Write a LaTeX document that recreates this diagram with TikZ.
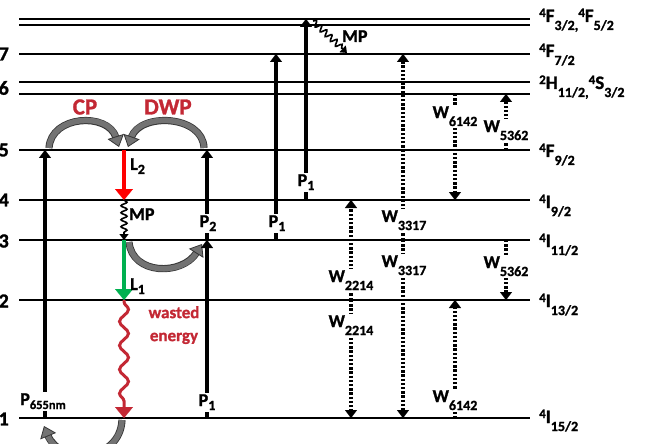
\documentclass[tikz,border=0pt]{standalone}
\usepackage{fontspec}
\setmainfont{Carlito Bold}[FakeBold=1.2]
\usetikzlibrary{arrows.meta,decorations.pathmorphing}
\definecolor{wred}{RGB}{195,40,52}
\definecolor{lgreen}{RGB}{0,176,80}
\definecolor{agray}{RGB}{115,115,115}
\definecolor{adark}{RGB}{55,55,55}
\newcommand{\sps}[1]{\raisebox{5pt}{\fontsize{13}{13}\selectfont #1}}
\newcommand{\sbs}[2][8pt]{\raisebox{-#1}{\fontsize{14}{14}\selectfont #2}}
\newcommand{\sbsm}[2][4pt]{\raisebox{-#1}{\fontsize{12.5}{12.5}\selectfont #2}}
\begin{document}
\begin{tikzpicture}[x=1pt,y=-1pt,
  level/.style={line width=1.6pt},
  lbl/.style={font=\fontsize{18}{18}\selectfont, inner sep=1.5pt, fill=white, anchor=base},
  plain/.style={font=\fontsize{18}{18}\selectfont, inner sep=0pt, anchor=base west},
  lvlname/.style={font=\fontsize{19}{19}\selectfont, inner sep=0pt, anchor=base west},
  num/.style={font=\fontsize{20}{20}\selectfont, inner sep=0pt, anchor=east},
  redtxt/.style={font=\fontsize{23}{23}\selectfont, text=wred, inner sep=0pt},
  pump/.style={line width=3.2pt, -{Triangle[width=12pt,length=8pt,line width=0.1pt]}},
  wdot/.style={line width=3.2pt, dash pattern=on 2.4pt off 1.8pt, -{Triangle[width=12pt,length=8pt,line width=0.1pt]}},
  emit/.style={line width=4pt, -{Triangle[width=18pt,length=11pt,line width=0.1pt]}},
  wavy/.style={line width=1.6pt, decorate, decoration={snake, amplitude=3pt, segment length=7pt, post length=5pt},
    -{Triangle[width=9pt,length=6pt,line width=0.1pt]}},
  waste/.style={line width=3pt, wred, decorate, decoration={snake, amplitude=4.5pt, segment length=24pt, post length=10pt, pre length=2pt},
    -{Triangle[width=18pt,length=11pt,line width=0.1pt]}},
  garrow/.style={line width=5.5pt, draw=agray,
    -{Triangle[width=17pt,length=11pt,fill=agray,color=adark,line width=0.8pt]},
    preaction={draw=adark, line width=7.2pt, -, shorten >=10pt}}
]
\useasboundingbox (0,0) rectangle (657,444);

% energy levels
\foreach \n/\y in {t1/19,t2/25,7/54,6a/82,6b/94,5/150,4/200,3/240,2/300,1/418} {
  \coordinate (L\n w) at (19,\y);
  \coordinate (L\n e) at (530,\y);
  \draw[level] (L\n w) -- (L\n e);
}

% left numbers
\node[num] (n7) at (9,54) {7};
\node[num] (n6) at (9,88) {6};
\node[num] (n5) at (9,150) {5};
\node[num] (n4) at (9,200) {4};
\node[num] (n3) at (9,241) {3};
\node[num] (n2) at (9,301) {2};
\node[num] (n1) at (9,419) {1};

% right level names
\node[lvlname] (nF3) at (539,22) {\sps{4}F\sbs{3/2,}\sps{4}F\sbs{5/2}};
\node[lvlname] (nF7) at (539,57) {\sps{4}F\sbs{7/2}};
\node[lvlname] (nH) at (539,89) {\sps{2}H\sbs{11/2,}\sps{4}S\sbs{3/2}};
\node[lvlname] (nF9) at (539,157) {\sps{4}F\sbs{9/2}};
\node[lvlname] (nI9) at (539,208) {\sps{4}I\sbs{9/2}};
\node[lvlname] (nI11) at (539,247) {\sps{4}I\sbs{11/2}};
\node[lvlname] (nI13) at (539,307) {\sps{4}I\sbs{13/2}};
\node[lvlname] (nI15) at (539,423) {\sps{4}I\sbs{15/2}};

% grey curved arrows (energy transfer)
\coordinate (cpA) at (49,148);
\coordinate (cpB) at (119,147);
\coordinate (dwA) at (204,148);
\coordinate (dwB) at (128,147);
\coordinate (mdA) at (129,242);
\coordinate (mdB) at (202,244);
\coordinate (btA) at (122,420);
\coordinate (btB) at (44,426);
\draw[garrow] (cpA) .. controls (51,115) and (108,112) .. (cpB);
\draw[garrow] (dwA) .. controls (203,115) and (140,112) .. (dwB);
\draw[garrow] (mdA) .. controls (132,275) and (182,276) .. (mdB);
\draw[garrow] (btA) .. controls (120,462) and (60,465) .. (btB);

% pump arrows
\coordinate (pa1) at (45,418);  \coordinate (pa2) at (45,150);
\coordinate (pb1) at (207,418); \coordinate (pb2) at (207,240);
\coordinate (pc1) at (207,240); \coordinate (pc2) at (207,150);
\coordinate (pd1) at (276,240); \coordinate (pd2) at (276,54);
\coordinate (pe1) at (306,200); \coordinate (pe2) at (306,19);
\draw[pump] (pa1) -- (pa2);
\draw[pump] (pb1) -- (pb2);
\draw[pump] (pc1) -- (pc2);
\draw[pump] (pd1) -- (pd2);
\draw[pump] (pe1) -- (pe2);

% emissions and relaxations
\coordinate (e2a) at (124,150); \coordinate (e2b) at (124,200);
\coordinate (mpa) at (124,200); \coordinate (mpb) at (124,240);
\coordinate (e1a) at (124,240); \coordinate (e1b) at (124,300);
\coordinate (wsa) at (124,300); \coordinate (wsb) at (124,418);
\coordinate (tma) at (313,21);  \coordinate (tmb) at (347,53);
\draw[emit, red] (e2a) -- (e2b);
\draw[wavy] (mpa) -- (mpb);
\draw[emit, lgreen] (e1a) -- (e1b);
\draw[waste] (wsa) -- (wsb);
\draw[wavy] (tma) -- (tmb);

% cross-relaxation (dotted)
\coordinate (wa0) at (403,240); \coordinate (wa1) at (403,54); \coordinate (wa2) at (403,418);
\coordinate (wb0) at (351,300); \coordinate (wb1) at (351,200); \coordinate (wb2) at (351,418);
\coordinate (wc1) at (455,94);  \coordinate (wc2) at (455,200);
\coordinate (wc3) at (455,418); \coordinate (wc4) at (455,300);
\coordinate (wd1) at (506,150); \coordinate (wd2) at (506,94);
\coordinate (wd3) at (506,240); \coordinate (wd4) at (506,300);
\draw[wdot] (wa0) -- (wa1);
\draw[wdot] (wa0) -- (wa2);
\draw[wdot] (wb0) -- (wb1);
\draw[wdot] (wb0) -- (wb2);
\draw[wdot] (wc1) -- (wc2);
\draw[wdot] (wc3) -- (wc4);
\draw[wdot] (wd1) -- (wd2);
\draw[wdot] (wd3) -- (wd4);

% labels on arrows
\node[lbl] (tP655) at (43,405) {P\sbsm{655nm}};
\node[lbl] (tP1a) at (207,406) {P\sbs[4pt]{1}};
\node[lbl] (tP2) at (208,227) {P\sbs[4pt]{2}};
\node[lbl] (tP1b) at (277,227) {P\sbs[4pt]{1}};
\node[lbl] (tP1c) at (306,186) {P\sbs[4pt]{1}};

\node[lbl] (tW3317a) at (404,222) {W\sbs{3317}};
\node[lbl] (tW3317b) at (404,267) {W\sbs{3317}};
\node[lbl] (tW2214a) at (351,282) {W\sbs{2214}};
\node[lbl] (tW2214b) at (351,327) {W\sbs{2214}};
\node[lbl] (tW6142a) at (455,118) {W\sbs{6142}};
\node[lbl] (tW6142b) at (455,402) {W\sbs{6142}};
\node[lbl] (tW5362a) at (506,132) {W\sbs{5362}};
\node[lbl] (tW5362b) at (506,268) {W\sbs{5362}};

\node[plain] (tL2) at (130,170) {L\sbs[4pt]{2}};
\node[plain] (tMP) at (129,220) {MP};
\node[plain] (tL1) at (130,290) {L\sbs[4pt]{1}};
\node[plain] (tMP2) at (342,42) {MP};

\node[redtxt] (tCP) at (85,107) {CP};
\node[redtxt] (tDWP) at (168,107) {DWP};
\node[font=\fontsize{17}{23}\selectfont, text=wred, align=center, inner sep=0pt, anchor=north]
  (tWaste) at (174,306) {wasted\\energy};
\end{tikzpicture}
\end{document}
